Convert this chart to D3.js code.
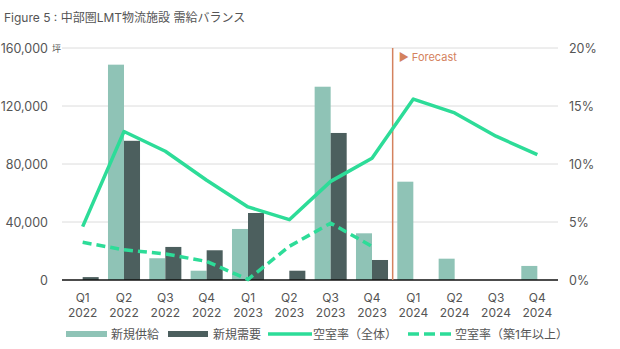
<!DOCTYPE html>
<html>
<head>
<meta charset="utf-8">
<script src="https://cdn.jsdelivr.net/npm/d3@7"></script>
<style>
  body { margin: 0; background: #fff; }
  svg text { font-family: Inter, "Noto Sans CJK JP", sans-serif; }
</style>
</head>
<body>
<div id="chart"></div>
<script>
// chart data
const quarters = ["Q1", "Q2", "Q3", "Q4", "Q1", "Q2", "Q3", "Q4", "Q1", "Q2", "Q3", "Q4"];
const years = ["2022", "2022", "2022", "2022", "2023", "2023", "2023", "2023", "2024", "2024", "2024", "2024"];
const supply = [0, 148500, 15000, 6400, 35200, 0, 133300, 32200, 67800, 14700, 0, 9700];
const demand = [2000, 96000, 22800, 20500, 46200, 6400, 101400, 13800, null, null, null, null];
const vacancyAll = [4.6, 12.8, 11.1, 8.6, 6.3, 5.2, 8.5, 10.5, 15.6, 14.4, 12.4, 10.8];
const vacancyOld = [3.25, 2.6, 2.25, 1.6, 0.05, 2.9, 4.9, 2.9, null, null, null, null];
const leftTicks = [0, 40000, 80000, 120000, 160000];
const rightTicks = [0, 5, 10, 15, 20];
const legendItems = ["新規供給", "新規需要", "空室率（全体）", "空室率（築1年以上）"];

const w = 620, h = 349;
const plotL = 62, plotR = 558, plotT = 48, plotB = 280;

const svg = d3.select("#chart").append("svg")
    .attr("width", w)
    .attr("height", h);

// title
svg.append("text")
    .attr("x", 4).attr("y", 22)
    .attr("font-size", "12px")
    .attr("fill", "#555")
    .text("Figure 5 : 中部圏LMT物流施設 需給バランス");

const idx = d3.range(quarters.length);
const x = d3.scaleBand().domain(idx).range([plotL, plotR]).padding(0);
const xSub = d3.scaleBand().domain(["s", "d"]).range([0, x.bandwidth()])
    .paddingInner(0).paddingOuter(0.29);
const yL = d3.scaleLinear().domain([0, 160000]).range([plotB, plotT]);
const yR = d3.scaleLinear().domain([0, 20]).range([plotB, plotT]);

// gridlines
svg.append("g").selectAll("line")
    .data(leftTicks.slice(1))
    .enter().append("line")
    .attr("x1", plotL).attr("x2", plotR)
    .attr("y1", d => yL(d)).attr("y2", d => yL(d))
    .attr("stroke", "#dcdcdc").attr("stroke-width", 1);

// left axis labels
svg.append("g").selectAll("text")
    .data(leftTicks)
    .enter().append("text")
    .attr("x", 48)
    .attr("y", d => yL(d) + 5)
    .attr("text-anchor", "end")
    .attr("font-size", "12.5px")
    .attr("fill", "#555")
    .text(d => d3.format(",")(d));

svg.append("text")
    .attr("x", 52).attr("y", yL(160000) + 4)
    .attr("font-size", "9px")
    .attr("fill", "#555")
    .text("坪");

// right axis labels
svg.append("g").selectAll("text")
    .data(rightTicks)
    .enter().append("text")
    .attr("x", 569)
    .attr("y", d => yR(d) + 5)
    .attr("font-size", "12.5px")
    .attr("fill", "#555")
    .text(d => d + "%");

// bars
svg.append("g").selectAll("rect")
    .data(idx.filter(i => supply[i] > 0))
    .enter().append("rect")
    .attr("x", i => x(i) + xSub("s"))
    .attr("y", i => yL(supply[i]))
    .attr("width", xSub.bandwidth())
    .attr("height", i => plotB - yL(supply[i]))
    .attr("fill", "#8fc3b6");

svg.append("g").selectAll("rect")
    .data(idx.filter(i => demand[i] > 0))
    .enter().append("rect")
    .attr("x", i => x(i) + xSub("d"))
    .attr("y", i => yL(demand[i]))
    .attr("width", xSub.bandwidth())
    .attr("height", i => plotB - yL(demand[i]))
    .attr("fill", "#4c5f5e");

// baseline
svg.append("line")
    .attr("x1", plotL).attr("x2", plotR)
    .attr("y1", plotB).attr("y2", plotB)
    .attr("stroke", "#111").attr("stroke-width", 1.5);

// forecast marker
const fx = x(8);
svg.append("line")
    .attr("x1", fx).attr("x2", fx)
    .attr("y1", plotT).attr("y2", plotB)
    .attr("stroke", "#d4825e").attr("stroke-width", 1.5);
svg.append("text")
    .attr("x", fx + 6).attr("y", plotT + 13)
    .attr("font-size", "11px")
    .attr("fill", "#d4825e")
    .text("▶ Forecast");

// vacancy lines
const line = d3.line()
    .defined(d => d.v != null)
    .x(d => x(d.i) + x.bandwidth() / 2)
    .y(d => yR(d.v));

svg.append("path")
    .datum(idx.map(i => ({ i: i, v: vacancyAll[i] })))
    .attr("d", line)
    .attr("fill", "none")
    .attr("stroke", "#2ddc98")
    .attr("stroke-width", 3.5)
    .attr("stroke-linejoin", "round");

svg.append("path")
    .datum(idx.map(i => ({ i: i, v: vacancyOld[i] })))
    .attr("d", line)
    .attr("fill", "none")
    .attr("stroke", "#2ddc98")
    .attr("stroke-width", 3.5)
    .attr("stroke-dasharray", "9,5");

// x labels
const xl = svg.append("g").selectAll("g")
    .data(idx)
    .enter().append("g");
xl.append("text")
    .attr("x", i => x(i) + x.bandwidth() / 2)
    .attr("y", 302)
    .attr("text-anchor", "middle")
    .attr("font-size", "12px")
    .attr("fill", "#555")
    .text(i => quarters[i]);
xl.append("text")
    .attr("x", i => x(i) + x.bandwidth() / 2)
    .attr("y", 317)
    .attr("text-anchor", "middle")
    .attr("font-size", "12px")
    .attr("fill", "#555")
    .text(i => years[i]);

// legend
const lg = svg.append("g");
const swX = [66, 168, 268, 408];
const txX = [111, 213, 313, 455];
lg.append("rect").attr("x", swX[0]).attr("y", 331).attr("width", 41).attr("height", 6).attr("fill", "#8fc3b6");
lg.append("rect").attr("x", swX[1]).attr("y", 331).attr("width", 40).attr("height", 6).attr("fill", "#4c5f5e");
lg.append("line").attr("x1", swX[2]).attr("x2", swX[2] + 44).attr("y1", 334).attr("y2", 334)
    .attr("stroke", "#2ddc98").attr("stroke-width", 3.5);
lg.append("line").attr("x1", swX[3]).attr("x2", swX[3] + 44).attr("y1", 334).attr("y2", 334)
    .attr("stroke", "#2ddc98").attr("stroke-width", 3.5).attr("stroke-dasharray", "11,5");
lg.selectAll("text")
    .data(legendItems)
    .enter().append("text")
    .attr("x", (d, i) => txX[i])
    .attr("y", 339)
    .attr("font-size", "12px")
    .attr("fill", "#555")
    .text(d => d);
</script>
</body>
</html>
